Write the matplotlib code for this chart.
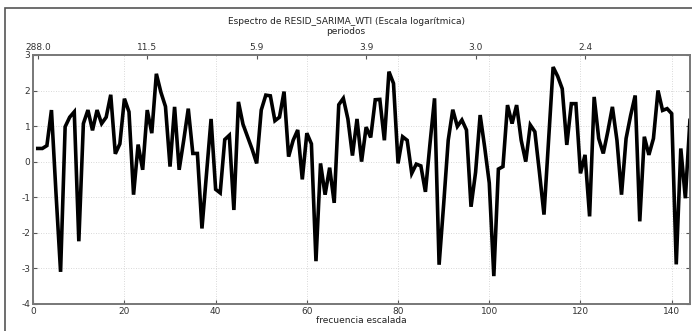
import numpy as np
import matplotlib
matplotlib.use("Agg")
import matplotlib.pyplot as plt
from matplotlib.patches import Rectangle

plt.rcParams["axes.unicode_minus"] = False

# log-spectrum of the SARIMA residuals, one value per scaled frequency 1..144
freq = np.arange(1, 145)
log_spec = [
    0.37, 0.37, 0.45, 1.45, -0.9, -3.1, 0.98, 1.25, 1.4, -2.24,
    1.07, 1.45, 0.88, 1.45, 1.07, 1.25, 1.88, 0.22, 0.5, 1.77,
    1.4, -0.93, 0.48, -0.23, 1.45, 0.8, 2.47, 1.95, 1.55, -0.14,
    1.54, -0.23, 0.6, 1.49, 0.23, 0.23, -1.88, -0.35, 1.2, -0.78,
    -0.88, 0.62, 0.74, -1.36, 1.68, 1.05, 0.7, 0.35, -0.05, 1.45,
    1.87, 1.85, 1.15, 1.25, 1.97, 0.14, 0.6, 0.89, -0.5, 0.8,
    0.5, -2.8, -0.05, -0.93, -0.17, -1.16, 1.6, 1.78, 1.2, 0.17,
    1.2, 0.0, 0.97, 0.68, 1.74, 1.75, 0.6, 2.53, 2.2, -0.05,
    0.7, 0.6, -0.33, -0.07, -0.12, -0.85, 0.5, 1.78, -2.9, -1.2,
    0.6, 1.46, 0.99, 1.17, 0.89, -1.27, -0.3, 1.31, 0.4, -0.6,
    -3.22, -0.21, -0.14, 1.59, 1.07, 1.59, 0.6, 0.0, 1.03, 0.84,
    -0.3, -1.49, 0.6, 2.66, 2.4, 2.05, 0.47, 1.63, 1.63, -0.33,
    0.19, -1.54, 1.82, 0.65, 0.23, 0.85, 1.54, 0.6, -0.93, 0.65,
    1.3, 1.86, -1.68, 0.7, 0.19, 0.65, 2.0, 1.44, 1.49, 1.35,
    -2.89, 0.37, -1.03, 1.16,
]

# top axis: periods
period_pos = [1, 25, 49, 73, 97, 121]
period_labels = ["288.0", "11.5", "5.9", "3.9", "3.0", "2.4"]

fig = plt.figure(figsize=(6.92, 3.31), dpi=100)
ax = fig.add_axes([0.048, 0.082, 0.949, 0.752])

ax.plot(freq, log_spec, color="black", lw=2.6, solid_joinstyle="miter")

ax.set_xlim(0, 144)
ax.set_ylim(-4, 3)
ax.set_xticks(range(0, 141, 20))
ax.set_yticks(range(-4, 4))
ax.grid(True, color="#cccccc", ls=(0, (1, 2)), lw=0.6)

tick_kw = dict(labelsize=6.5, labelcolor="#333333", color="#555555",
               direction="in", length=3, width=0.8)
ax.tick_params(axis="both", pad=2, right=True, **tick_kw)
ax.set_xlabel("frecuencia escalada", fontsize=6.5, labelpad=0, color="#222222")

top = ax.twiny()
top.set_xlim(ax.get_xlim())
top.set_xticks(period_pos)
top.set_xticklabels(period_labels)
top.tick_params(axis="x", pad=2, **tick_kw)

for a in (ax, top):
    for s in a.spines.values():
        s.set_color("#777777")
        s.set_linewidth(1.2)

fig.text(0.5, 0.935, "Espectro de RESID_SARIMA_WTI (Escala logarítmica)",
         ha="center", va="center", fontsize=6.5, color="#222222")
fig.text(0.5, 0.905, "periodos", ha="center", va="center",
         fontsize=6.5, color="#222222")

# outer frame of the screenshot
fig.patches.append(Rectangle((0.007, -0.01), 1.1, 0.985, transform=fig.transFigure,
                             fill=False, ec="#555555", lw=1.2))

fig.savefig("out.png", dpi=100)
